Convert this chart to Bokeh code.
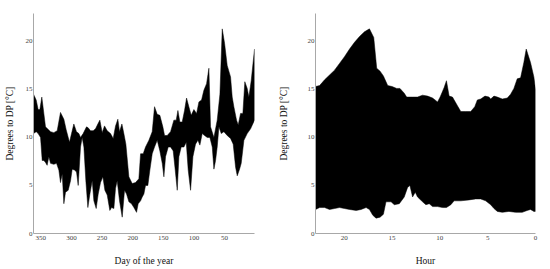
from bokeh.plotting import figure
from bokeh.layouts import row
from bokeh.models import Range1d, FixedTicker
from bokeh.embed import file_html
from bokeh.resources import INLINE

# ---- Left panel: day of the year ----
day_upper = [362, 357.6, 354.4, 351.6, 348.4, 345.1, 342.4, 334.2, 328.8, 323.3, 317.9, 312.4,
             308.6, 303.2, 299.9, 296.1, 291.8, 287.9, 285.2, 280.9, 275.4, 272.7, 268.8, 264.5,
             260.7, 256.9, 253.6, 249.8, 246.0, 241.6, 236.2, 231.8, 228.0, 224.2, 221.5, 217.6,
             214.4, 211.1, 206.2, 200.8, 195.3, 189.9, 187.1, 182.8, 179.0, 173.5, 168.1, 164.3,
             159.9, 155.6, 150.7, 147.9, 143.6, 138.1, 132.7, 128.9, 126.1, 122.9, 119.1, 115.3,
             112.0, 108.2, 104.4, 100.0, 95.6, 91.8, 87.5, 83.7, 79.3, 75.5, 72.8, 67.3, 61.9,
             57.5, 53.7, 49.9, 45.6, 40.1, 37.4, 34.7, 30.3, 27.6, 23.8, 20.0, 16.8, 12.9, 10.2,
             6.4, 1.0]
dp_upper = [14.5, 13.9, 12.9, 12.9, 14.2, 12.5, 11.1, 10.6, 10.5, 10.7, 12.6, 11.9,
            10.8, 9.5, 10.4, 11.4, 10.6, 10.4, 10.0, 10.4, 11.1, 11.0, 10.7, 10.7,
            10.9, 11.4, 11.8, 10.5, 11.2, 10.7, 10.4, 9.9, 11.2, 11.9, 10.6, 11.4,
            10.4, 9.3, 5.9, 5.2, 5.3, 5.7, 8.3, 8.3, 9.0, 9.7, 10.6, 13.2,
            12.4, 12.3, 11.1, 10.2, 10.2, 10.6, 11.8, 11.8, 12.8, 11.6, 11.6, 12.8,
            14.1, 13.2, 12.3, 12.9, 12.5, 13.7, 13.9, 14.9, 15.6, 17.2, 11.1, 10.0, 11.8,
            14.5, 21.3, 19.8, 17.5, 16.3, 14.2, 13.2, 11.8, 11.3, 12.5, 12.5, 15.8, 15.1, 14.2,
            15.9, 19.2]
day_lower = [362.0, 357.6, 354.4, 350.5, 347.8, 345.1, 342.4, 339.7, 336.9, 334.2, 328.8, 324.4,
             320.6, 317.9, 315.1, 312.4, 309.7, 305.3, 301.5, 298.8, 295.0, 291.7, 289.0, 285.2,
             282.5, 279.7, 276.5, 273.2, 269.9, 266.1, 263.4, 259.6, 256.3, 252.5, 248.7, 245.4,
             241.6, 237.3, 234.5, 230.7, 228.0, 225.3, 221.5, 217.1, 213.3, 210.0, 206.2, 201.9,
             198.0, 193.7, 191.0, 187.1, 184.4, 181.7, 179.0, 175.2, 171.9, 168.1, 164.3, 159.9,
             155.6, 151.7, 149.0, 146.3, 141.9, 138.1, 133.8, 130.5, 127.2, 124.5, 120.7, 116.3,
             112.5, 109.3, 105.4, 101.6, 97.3, 93.5, 90.2, 86.4, 82.6, 78.2, 73.9, 70.0, 67.3,
             64.6, 61.9, 59.1, 55.3, 51.0, 45.6, 40.1, 35.8, 31.9, 29.2, 25.4, 22.7, 18.3, 12.9,
             7.4, 1.0]
dp_lower = [10.4, 10.6, 10.4, 10.0, 7.6, 7.6, 7.4, 7.1, 8.0, 7.3, 7.2, 7.3,
            6.6, 5.3, 6.2, 3.1, 4.3, 4.5, 5.5, 6.7, 6.6, 6.4, 5.0, 9.0,
            10.0, 9.0, 5.5, 2.7, 4.1, 5.5, 3.4, 2.6, 4.1, 5.3, 5.9, 4.5,
            4.0, 2.4, 2.7, 2.6, 4.7, 5.5, 3.4, 1.7, 4.5, 4.1, 3.3, 3.1,
            2.7, 2.2, 3.1, 3.4, 3.8, 4.1, 5.0, 5.0, 6.6, 8.3, 9.0, 9.7,
            8.6, 7.3, 5.9, 8.0, 9.0, 9.0, 8.6, 6.6, 4.5, 8.0, 9.0, 9.0,
            9.5, 6.6, 4.5, 8.0, 9.3, 9.7, 9.2, 10.4, 10.2, 10.0, 10.0, 9.0, 6.7,
            7.6, 9.0, 11.1, 10.4, 10.6, 10.2, 9.9, 9.3, 6.9, 6.0, 6.7, 7.3, 9.7, 10.4,
            10.9, 11.8]

# ---- Right panel: hour of the day ----
hour_upper = [22.99, 22.57, 22.05, 21.53, 21.01, 20.49, 19.97, 19.44, 18.92, 18.40, 17.88, 17.36,
              16.91, 16.60, 16.25, 15.90, 15.45, 15.0, 14.51, 14.17, 13.72, 13.47, 12.85, 12.33,
              11.81, 11.28, 10.76, 10.24, 9.97, 9.55, 9.31, 9.03, 8.68, 8.16, 7.81, 7.29, 6.77,
              6.35, 6.08, 5.73, 5.28, 4.86, 4.69, 4.34, 3.99, 3.47, 2.95, 2.60, 2.26, 1.91, 1.56,
              1.22, 0.97, 0.52, 0.17, 0.0]
hdp_upper = [15.3, 15.4, 16.0, 16.5, 17.0, 17.7, 18.4, 19.2, 19.9, 20.5, 21.0, 21.3,
             20.4, 17.2, 16.9, 16.4, 15.4, 15.3, 15.1, 15.1, 14.6, 14.2, 14.2, 14.2,
             14.4, 14.3, 14.1, 13.7, 14.2, 15.2, 15.9, 14.3, 14.2, 13.3, 12.7, 12.7, 12.7,
             13.2, 13.9, 14.0, 14.3, 14.2, 14.0, 14.3, 14.2, 14.0, 14.1, 14.5, 15.1, 16.1, 16.2,
             17.8, 19.2, 17.8, 16.3, 15.0]
hour_lower = [22.99, 22.57, 22.05, 21.53, 21.01, 20.49, 19.97, 19.44, 18.75, 18.23, 17.71, 17.36,
              17.01, 16.67, 16.25, 15.90, 15.63, 15.10, 14.76, 14.24, 13.72, 13.37, 13.13, 12.85,
              12.57, 12.33, 11.81, 11.46, 11.11, 10.76, 10.24, 9.72, 9.31, 8.85, 8.51, 7.81, 6.94,
              6.25, 5.73, 5.21, 4.69, 4.34, 3.99, 3.47, 2.78, 2.08, 1.39, 0.87, 0.52, 0.17, 0.0]
hdp_lower = [2.5, 2.7, 2.7, 2.5, 2.6, 2.7, 2.6, 2.5, 2.4, 2.5, 2.7, 2.5,
             1.9, 1.6, 1.7, 2.0, 3.3, 3.3, 3.0, 3.1, 3.8, 4.8, 5.0, 3.8,
             4.3, 3.8, 3.3, 3.0, 3.1, 2.8, 2.8, 2.7, 2.7, 3.0, 3.4, 3.4, 3.5,
             3.6, 3.6, 3.4, 3.0, 2.6, 2.3, 2.2, 2.3, 2.2, 2.2, 2.4, 2.5, 2.3, 2.3]

y_ticks = [0, 5, 10, 15, 20]
day_ticks = [50, 100, 150, 200, 250, 300, 350]
hour_ticks = [0, 5, 10, 15, 20]

FONT = "Liberation Serif"


def style(p, xlabel, ylabel, xticks, ylab_standoff):
    p.grid.visible = False
    p.outline_line_color = None
    p.background_fill_color = "white"
    p.border_fill_color = "white"
    for ax in (p.xaxis[0], p.yaxis[0]):
        ax.axis_line_color = "#a8a8a8"
        ax.axis_line_width = 1
        ax.major_tick_line_color = None
        ax.minor_tick_line_color = None
        ax.major_tick_out = 0
        ax.major_tick_in = 0
        ax.major_label_text_font = FONT
        ax.major_label_text_font_size = "7px"
        ax.major_label_text_color = "#444444"
        ax.axis_label_text_font = FONT
        ax.axis_label_text_font_size = "9.5px"
        ax.axis_label_text_font_style = "normal"
        ax.axis_label_text_color = "#111111"
    p.xaxis[0].axis_label = xlabel
    p.yaxis[0].axis_label = ylabel
    p.xaxis[0].ticker = FixedTicker(ticks=xticks)
    p.yaxis[0].ticker = FixedTicker(ticks=y_ticks)
    p.xaxis[0].major_label_standoff = 2
    p.xaxis[0].axis_label_standoff = 13
    p.yaxis[0].major_label_standoff = 1
    p.yaxis[0].axis_label_standoff = ylab_standoff


p1 = figure(width=275, height=269, output_backend="svg", toolbar_location=None,
            x_range=Range1d(362, 1), y_range=Range1d(0, 22.9),
            min_border_left=33, min_border_right=21, min_border_top=13, min_border_bottom=36)
p1.patch(day_upper + day_lower[::-1], dp_upper + dp_lower[::-1],
         fill_color="black", line_color="black", line_width=0.5)
style(p1, "Day of the year", "Degrees to DP [°C]", day_ticks, 8)

p2 = figure(width=275, height=269, output_backend="svg", toolbar_location=None,
            x_range=Range1d(23, 0), y_range=Range1d(0, 22.9),
            min_border_left=39, min_border_right=15, min_border_top=13, min_border_bottom=36)
p2.patch(hour_upper + hour_lower[::-1], hdp_upper + hdp_lower[::-1],
         fill_color="black", line_color="black", line_width=0.5)
style(p2, "Hour", "Degrees to DP [°C]", hour_ticks, 16)

layout = row(p1, p2)
open("out.html", "w").write(file_html(layout, INLINE))
